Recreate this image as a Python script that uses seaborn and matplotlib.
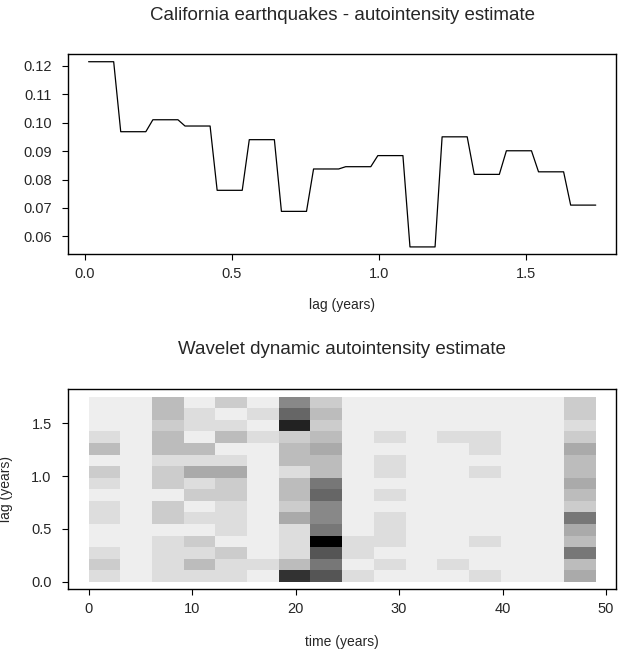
"""
California earthquakes: autointensity estimate and wavelet dynamic version
"""
import numpy as np
import pandas as pd
import seaborn as sns
import matplotlib.pyplot as plt
from matplotlib.colors import LinearSegmentedColormap

# Lag bins (years) shared by both panels.
lag_max = 1.75
n_lags = 16

# Autointensity estimate per lag bin.
autointensity = [0.1214, 0.0968, 0.1010, 0.0988, 0.0762, 0.0940, 0.0688, 0.0837,
                 0.0845, 0.0884, 0.0563, 0.0950, 0.0818, 0.0901, 0.0827, 0.0710]

# Time span (years) of the dynamic estimate.
time_max = 49.0

# Wavelet dynamic estimate (relative level), rows from the largest lag down.
dynamic = [
    [0, 0, 3, 0, 2, 0, 6, 2, 0, 0, 0, 0, 0, 0, 0, 2],
    [0, 0, 3, 1, 0, 1, 8, 3, 0, 0, 0, 0, 0, 0, 0, 2],
    [0, 0, 2, 1, 1, 0, 12, 2, 0, 0, 0, 0, 0, 0, 0, 1],
    [1, 0, 3, 0, 3, 1, 2, 3, 0, 1, 0, 1, 1, 0, 0, 2],
    [3, 0, 3, 3, 0, 0, 3, 4, 0, 0, 0, 0, 1, 0, 0, 4],
    [0, 0, 1, 1, 1, 0, 3, 3, 0, 1, 0, 0, 0, 0, 0, 3],
    [2, 0, 2, 4, 4, 0, 1, 3, 0, 1, 0, 0, 1, 0, 0, 3],
    [1, 0, 2, 1, 2, 0, 3, 7, 0, 0, 0, 0, 0, 0, 0, 4],
    [0, 0, 0, 2, 2, 0, 3, 8, 0, 1, 0, 0, 0, 0, 0, 3],
    [1, 0, 2, 0, 1, 0, 2, 6, 0, 0, 0, 0, 0, 0, 0, 2],
    [1, 0, 2, 1, 1, 0, 4, 6, 0, 1, 0, 0, 0, 0, 0, 7],
    [0, 0, 0, 0, 1, 0, 1, 7, 0, 1, 0, 0, 0, 0, 0, 4],
    [0, 0, 1, 2, 0, 0, 1, 14, 1, 1, 0, 0, 1, 0, 0, 3],
    [1, 0, 1, 1, 2, 0, 1, 9, 1, 0, 0, 0, 0, 0, 0, 7],
    [2, 0, 1, 3, 1, 1, 3, 7, 0, 1, 0, 1, 0, 0, 0, 3],
    [1, 0, 1, 1, 1, 0, 11, 9, 1, 0, 0, 0, 1, 0, 0, 4],
]

lag_ticks = [0.0, 0.5, 1.0, 1.5]
est_ticks = [0.06, 0.07, 0.08, 0.09, 0.10, 0.11, 0.12]
time_ticks = [0, 10, 20, 30, 40, 50]


def style_box(ax):
    # R style: full box, ticks pointing out.
    for s in ax.spines.values():
        s.set_visible(True)
        s.set_color("black")
        s.set_linewidth(1.0)
    ax.tick_params(axis="both", direction="out", length=4, width=0.8,
                   color="black", labelsize=10.5)
    ax.tick_params(axis="x", pad=5)
    ax.tick_params(axis="y", pad=8)


def top_panel(ax):
    # Each lag bin is drawn as a flat piece with short ramps between bins.
    w = lag_max / n_lags
    gap = 0.012
    xs, ys = [], []
    for i, v in enumerate(autointensity):
        xs += [i * w + gap, (i + 1) * w - gap]
        ys += [v, v]
    df = pd.DataFrame({"lag": xs, "est": ys})
    sns.lineplot(data=df, x="lag", y="est", ax=ax, color="black",
                 linewidth=0.9, estimator=None, sort=False)

    span = xs[-1] - xs[0]
    ax.set_xlim(xs[0] - 0.04 * span, xs[-1] + 0.04 * span)
    lo, hi = min(ys), max(ys)
    ax.set_ylim(lo - 0.04 * (hi - lo), hi + 0.04 * (hi - lo))
    ax.set_xticks(lag_ticks)
    ax.set_xticklabels([f"{t:.1f}" for t in lag_ticks])
    ax.set_yticks(est_ticks)
    ax.set_yticklabels([f"{t:.2f}" for t in est_ticks])
    ax.set_ylabel("")
    ax.set_xlabel("lag (years)", fontsize=10)
    ax.xaxis.set_label_coords(0.5, -0.255)
    ax.xaxis.label.set_verticalalignment("center")
    ax.text(0.5, 1.1965, "California earthquakes - autointensity estimate",
            transform=ax.transAxes, ha="center", va="center", fontsize=13.5)
    style_box(ax)


def bottom_panel(ax):
    z = np.array(dynamic, dtype=float)
    cmap = LinearSegmentedColormap.from_list("grey", ["#EEEEEE", "#000000"])
    sns.heatmap(z, ax=ax, cmap=cmap, vmin=0, vmax=14, cbar=False,
                xticklabels=False, yticklabels=False)

    # Map years / lag onto heatmap cell units.
    dt = time_max / z.shape[1]
    dl = lag_max / z.shape[0]
    ax.set_xlim(-0.04 * time_max / dt, 1.04 * time_max / dt)
    ax.set_ylim(z.shape[0] + 0.04 * lag_max / dl, z.shape[0] - 1.04 * lag_max / dl)
    ax.set_xticks([t / dt for t in time_ticks])
    ax.set_xticklabels([str(t) for t in time_ticks])
    ax.set_yticks([z.shape[0] - l / dl for l in lag_ticks])
    ax.set_yticklabels([f"{l:.1f}" for l in lag_ticks], rotation=0)

    ax.set_xlabel("time (years)", fontsize=10)
    ax.xaxis.set_label_coords(0.5, -0.262)
    ax.xaxis.label.set_verticalalignment("center")
    ax.set_ylabel("lag (years)", fontsize=10)
    ax.yaxis.set_label_coords(-0.1137, 0.5)
    ax.yaxis.label.set_verticalalignment("center")
    ax.text(0.5, 1.1965, "Wavelet dynamic autointensity estimate",
            transform=ax.transAxes, ha="center", va="center", fontsize=13.5)
    style_box(ax)


if __name__ == "__main__":
    sns.set_theme(style="ticks")
    plt.rcParams["font.family"] = ["Liberation Sans", "DejaVu Sans"]

    fig = plt.figure(figsize=(6.21, 6.56), dpi=100)
    ax1 = fig.add_axes([0.110, 0.6123, 0.882, 0.3049])
    ax2 = fig.add_axes([0.110, 0.1017, 0.882, 0.3049])

    top_panel(ax1)
    bottom_panel(ax2)

    fig.savefig("out.png", dpi=100)
